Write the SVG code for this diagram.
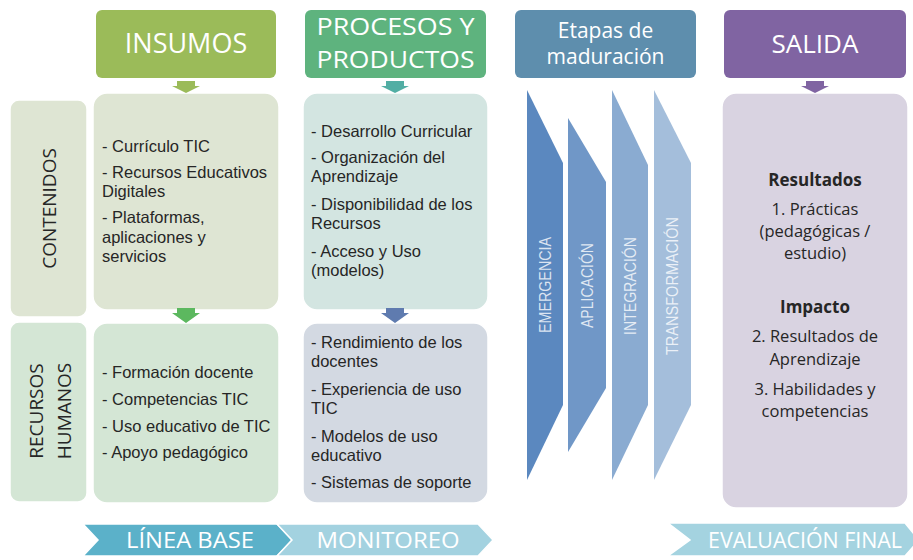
<svg xmlns="http://www.w3.org/2000/svg" width="913" height="560" viewBox="0 0 913 560">
<style>
  .hdr { font-family: "Open Sans", "Liberation Sans", sans-serif; fill: #ffffff; text-anchor: middle; }
  .lbl { font-family: "Open Sans", "Liberation Sans", sans-serif; fill: #262626; font-size: 19px; text-anchor: middle; }
  .itm { font-family: "Liberation Sans", "Open Sans", sans-serif; fill: #262626; font-size: 16.5px; }
  .out { font-family: "Open Sans", "Liberation Sans", sans-serif; fill: #262626; font-size: 16.5px; text-anchor: middle; }
  .bold { font-weight: bold; font-size: 17px; }
  .stg { font-family: "Liberation Sans", "Open Sans", sans-serif; fill: #ffffff; fill-opacity: 0.78; font-size: 17px; text-anchor: middle; }
  .bar { font-family: "Open Sans", "Liberation Sans", sans-serif; fill: #ffffff; font-size: 21px; text-anchor: middle; }
  .box { stroke: #ffffff; stroke-width: 1.5; }
</style>

<!-- Headers -->
<g id="insumos">
  <rect x="96" y="10" width="180" height="68" rx="6" fill="#9BBB59"/>
  <text class="hdr" x="186" y="53" font-size="27">INSUMOS</text>
</g>
<g id="procesos">
  <rect x="305" y="10" width="181" height="68" rx="6" fill="#5EB37E"/>
  <text class="hdr" x="395.5" y="35" font-size="24.5" textLength="158" lengthAdjust="spacingAndGlyphs">PROCESOS Y</text>
  <text class="hdr" x="395.5" y="68" font-size="24.5" textLength="158" lengthAdjust="spacingAndGlyphs">PRODUCTOS</text>
</g>
<g id="etapas">
  <rect x="515" y="10" width="181" height="68" rx="6" fill="#5E8EAD"/>
  <text class="hdr" x="605.5" y="38" font-size="21">Etapas de</text>
  <text class="hdr" x="605.5" y="64" font-size="21">maduración</text>
</g>
<g id="salida">
  <rect x="724" y="10" width="182" height="68" rx="6" fill="#8064A2"/>
  <text class="hdr" x="815" y="53" font-size="26">SALIDA</text>
</g>

<!-- Row labels -->
<g id="contenidos">
  <rect class="box" x="10" y="100" width="77" height="217" rx="9" fill="#DEE5D3"/>
  <text class="lbl" transform="translate(55.5,208.5) rotate(-90)" x="0" y="0">CONTENIDOS</text>
</g>
<g id="recursos-humanos">
  <rect class="box" x="10" y="322" width="77" height="180" rx="9" fill="#D4E6D5"/>
  <text class="lbl" transform="translate(42.5,411) rotate(-90)" x="0" y="0">RECURSOS</text>
  <text class="lbl" transform="translate(71,411) rotate(-90)" x="0" y="0">HUMANOS</text>
</g>

<!-- Insumos content -->
<g id="insumos-contenidos">
  <rect class="box" x="93" y="93" width="186" height="217" rx="14" fill="#DEE5D3"/>
  <text class="itm" x="102" y="152">- Currículo TIC</text>
  <text class="itm" x="102" y="178">- Recursos Educativos<tspan x="102" y="197">Digitales</tspan></text>
  <text class="itm" x="102" y="223">- Plataformas,<tspan x="102" y="243">aplicaciones y</tspan><tspan x="102" y="262">servicios</tspan></text>
</g>
<g id="insumos-rrhh">
  <rect class="box" x="93" y="323" width="186" height="180" rx="14" fill="#D4E6D5"/>
  <text class="itm" x="102" y="378">- Formación docente</text>
  <text class="itm" x="102" y="405">- Competencias TIC</text>
  <text class="itm" x="102" y="432">- Uso educativo de TIC</text>
  <text class="itm" x="102" y="458">- Apoyo pedagógico</text>
</g>

<!-- Procesos content -->
<g id="procesos-contenidos">
  <rect class="box" x="303" y="93" width="185" height="217" rx="14" fill="#D3E5E1"/>
  <text class="itm" x="311" y="137">- Desarrollo Curricular</text>
  <text class="itm" x="311" y="163">- Organización del<tspan x="311" y="182">Aprendizaje</tspan></text>
  <text class="itm" x="311" y="210">- Disponibilidad de los<tspan x="311" y="229">Recursos</tspan></text>
  <text class="itm" x="311" y="257">- Acceso y Uso<tspan x="311" y="276">(modelos)</tspan></text>
</g>
<g id="procesos-rrhh">
  <rect class="box" x="303" y="323" width="185" height="180" rx="14" fill="#D3D9E2"/>
  <text class="itm" x="311" y="348">- Rendimiento de los<tspan x="311" y="367">docentes</tspan></text>
  <text class="itm" x="311" y="395">- Experiencia de uso<tspan x="311" y="414">TIC</tspan></text>
  <text class="itm" x="311" y="442">- Modelos de uso<tspan x="311" y="461">educativo</tspan></text>
  <text class="itm" x="311" y="488">- Sistemas de soporte</text>
</g>

<!-- Stages -->
<g id="emergencia">
  <polygon points="527,90 563,163 563,405 527,480" fill="#5B88BF"/>
  <text class="stg" transform="translate(551,285) rotate(-90)" textLength="96" lengthAdjust="spacingAndGlyphs">EMERGENCIA</text>
</g>
<g id="aplicacion">
  <polygon points="568,118 606,182 606,388 568,452" fill="#7097C7"/>
  <text class="stg" transform="translate(593,285.5) rotate(-90)" textLength="85" lengthAdjust="spacingAndGlyphs">APLICACIÓN</text>
</g>
<g id="integracion">
  <polygon points="612,90 648,165 648,405 612,480" fill="#8AABD1"/>
  <text class="stg" transform="translate(636,286) rotate(-90)" textLength="98" lengthAdjust="spacingAndGlyphs">INTEGRACIÓN</text>
</g>
<g id="transformacion">
  <polygon points="654,90 691,163 691,405 654,480" fill="#A4BEDB"/>
  <text class="stg" transform="translate(678,286) rotate(-90)" textLength="138" lengthAdjust="spacingAndGlyphs">TRANSFORMACIÓN</text>
</g>

<!-- Salida content -->
<g id="salida-contenido">
  <rect class="box" x="722" y="93" width="186" height="415" rx="14" fill="#D9D3E1"/>
  <text class="out bold" x="815" y="186">Resultados</text>
  <text class="out" x="815" y="215">1. Prácticas<tspan x="815" y="237">(pedagógicas /</tspan><tspan x="815" y="259">estudio)</tspan></text>
  <text class="out bold" x="815" y="313">Impacto</text>
  <text class="out" x="815" y="342">2. Resultados de<tspan x="815" y="365">Aprendizaje</tspan></text>
  <text class="out" x="815" y="395">3. Habilidades y<tspan x="815" y="417">competencias</tspan></text>
</g>

<!-- Bottom timeline -->
<g id="linea-base">
  <polygon points="83,524 277,524 292,540 277,556 83,556 98,540" fill="#5BB1C9" stroke="#ffffff" stroke-width="1.5"/>
  <text class="bar" x="190" y="547.5" textLength="128" lengthAdjust="spacingAndGlyphs">LÍNEA BASE</text>
</g>
<g id="monitoreo">
  <polygon points="277,524 478,524 493,540 478,556 277,556 292,540" fill="#A3D2E0" stroke="#ffffff" stroke-width="1.5"/>
  <text class="bar" x="388" y="547.5" textLength="143" lengthAdjust="spacingAndGlyphs">MONITOREO</text>
</g>
<g id="evaluacion-final">
  <polygon points="668,523 905,523 919,540 905,556 668,556 690,540" fill="#A4D3E0" stroke="#ffffff" stroke-width="1.5"/>
  <text class="bar" x="805" y="547.5" textLength="194" lengthAdjust="spacingAndGlyphs">EVALUACIÓN FINAL</text>
</g>

<!-- Connectors -->
<g id="connectors">
  <polygon points="177,81 195,81 195,86 200,86 186,93 172,86 177,86" fill="#9BBB59"/>
  <polygon points="386,81 404,81 404,86 409,86 395,93 381,86 386,86" fill="#52AEA4"/>
  <polygon points="806,81 824,81 824,86 829,86 815,93 801,86 806,86" fill="#8064A2"/>
  <polygon points="177,308 195,308 195,313 200,313 186,323 172,313 177,313" fill="#5CB85F"/>
  <polygon points="386,308 404,308 404,313 409,313 395,323 381,313 386,313" fill="#5F7BAF"/>
</g>
</svg>
